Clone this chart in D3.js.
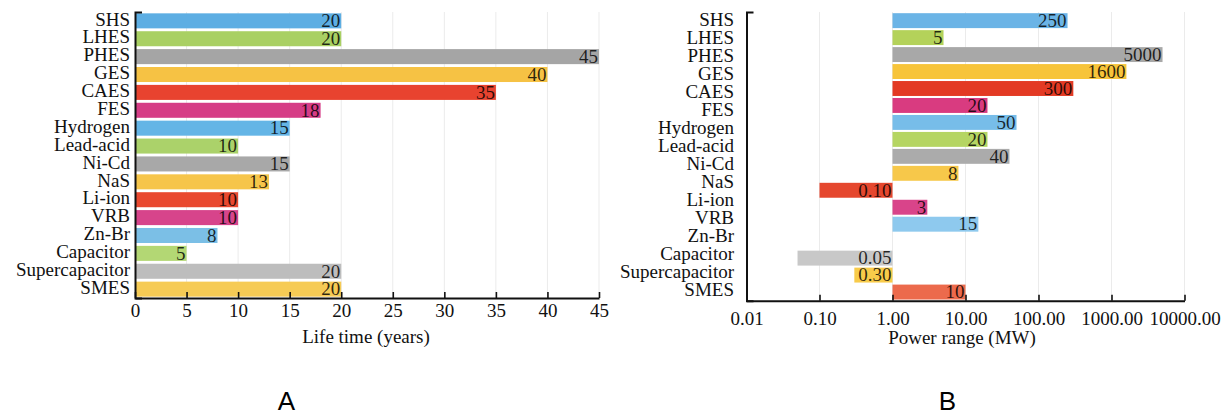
<!DOCTYPE html>
<html>
<head>
<meta charset="utf-8">
<script src="https://cdn.jsdelivr.net/npm/d3@7"></script>
<style>
  html, body { margin: 0; padding: 0; background: #fff; }
  svg { display: block; }
</style>
</head>
<body>
<svg id="chart" width="1230" height="416"></svg>
<script>
// Storage technologies, top to bottom
const technologies = ["SHS", "LHES", "PHES", "GES", "CAES", "FES", "Hydrogen", "Lead-acid",
  "Ni-Cd", "NaS", "Li-ion", "VRB", "Zn-Br", "Capacitor", "Supercapacitor", "SMES"];

// Panel A: life time in years
const lifeValues = [20, 20, 45, 40, 35, 18, 15, 10, 15, 13, 10, 10, 8, 5, 20, 20];
const lifeColors = ["#5daee3", "#a9d063", "#a5a5a5", "#f6c244", "#e8432f", "#d63d86", "#64b5e6", "#abd26a",
  "#a8a8a8", "#f6c54a", "#e9492f", "#d7448b", "#7bbfe6", "#b3d774", "#bdbdbd", "#f6cb55"];
const lifeTicks = [0, 5, 10, 15, 20, 25, 30, 35, 40, 45];

// Panel B: power range in MW, bars laid out on their own row grid (one empty row)
const powerValues = [250, 5, 5000, 1600, 300, 20, 50, 20, 40, 8, 0.10, 3, 15, null, 0.05, 0.30, 10];
const powerColors = ["#6bb4e6", "#b4d25a", "#a8a8a8", "#f7c43a", "#e33a24", "#d93b80", "#77bde9", "#b5d562",
  "#ababab", "#f7c84a", "#e5472e", "#d9448a", "#8ec9ee", "#b5d562", "#c8c8c8", "#f8cb4a", "#ec6a4c"];
const powerTicks = [0.01, 0.1, 1, 10, 100, 1000, 10000];
const powerTickLabels = ["0.01", "0.10", "1.00", "10.00", "100.00", "1000.00", "10000.00"];

const SERIF = "'Liberation Serif', 'Times New Roman', Times, serif";

const svg = d3.select("#chart");
svg.append("rect").attr("width", 1230).attr("height", 416).attr("fill", "#fff");

const fmtValue = v => v < 1 ? v.toFixed(2) : String(v);

function styleAxis(a) {
  a.attr("font-family", SERIF).attr("font-size", 19);
  a.select(".domain").attr("stroke", "#111").attr("stroke-width", 2);
  a.selectAll(".tick line").attr("stroke", "#111").attr("stroke-width", 1.6);
  a.selectAll("text").attr("fill", "#111");
}

// ---------- Panel A ----------
(function () {
  const g = svg.append("g");
  const x = d3.scaleLinear().domain([0, 45]).range([135, 599]);
  const y = d3.scaleBand().domain(technologies).range([12, 298]).paddingInner(0.16).paddingOuter(0.075);
  const axisY = 298;

  // faint vertical grid
  g.append("g").selectAll("line").data(lifeTicks.filter(t => t > 0)).join("line")
    .attr("x1", d => x(d)).attr("x2", d => x(d)).attr("y1", 12).attr("y2", axisY)
    .attr("stroke", "#ebebeb").attr("stroke-width", 1);

  const rows = technologies.map((c, i) => ({ c, v: lifeValues[i], color: lifeColors[i] }));
  g.append("g").selectAll("rect").data(rows).join("rect")
    .attr("x", x(0)).attr("y", d => y(d.c))
    .attr("width", d => x(d.v) - x(0)).attr("height", y.bandwidth())
    .attr("fill", d => d.color);

  g.append("g").attr("font-family", SERIF).attr("font-size", 19)
    .selectAll("text").data(rows).join("text")
    .attr("x", d => x(d.v) - 1).attr("y", d => y(d.c) + y.bandwidth() / 2)
    .attr("dy", "0.33em").attr("text-anchor", "end")
    .attr("fill", "#000").attr("fill-opacity", 0.82)
    .text(d => fmtValue(d.v));

  const xAxis = g.append("g").attr("transform", `translate(0,${axisY})`)
    .call(d3.axisBottom(x).tickValues(lifeTicks).tickSizeInner(-6).tickSizeOuter(0).tickPadding(6));
  const yAxis = g.append("g").attr("transform", `translate(${x(0)},0)`)
    .call(d3.axisLeft(y).tickSize(0).tickSizeOuter(-7).tickPadding(5));
  styleAxis(xAxis); styleAxis(yAxis);
  yAxis.selectAll("text").attr("dy", "0.25em");

  g.append("text").attr("x", 366).attr("y", 343).attr("text-anchor", "middle")
    .attr("font-family", SERIF).attr("font-size", 19).attr("fill", "#111")
    .text("Life time (years)");
})();

// ---------- Panel B ----------
(function () {
  const g = svg.append("g");
  const x = d3.scaleLog().domain([0.01, 10000]).range([746.5, 1184.5]);
  const rowsIdx = d3.range(powerValues.length);
  const yBars = d3.scaleBand().domain(rowsIdx).range([12, 300.7]).paddingInner(0.12).paddingOuter(0.07);
  const yLabels = d3.scaleBand().domain(technologies).range([12, 300.7]);
  const axisY = 300.7;

  g.append("g").selectAll("line").data(powerTicks.slice(1)).join("line")
    .attr("x1", d => x(d)).attr("x2", d => x(d)).attr("y1", 12).attr("y2", axisY)
    .attr("stroke", "#ebebeb").attr("stroke-width", 1);

  const bars = rowsIdx.map(i => ({ i, v: powerValues[i], color: powerColors[i] }))
    .filter(d => d.v != null);
  g.append("g").selectAll("rect").data(bars).join("rect")
    .attr("x", d => Math.min(x(1), x(d.v))).attr("y", d => yBars(d.i))
    .attr("width", d => Math.abs(x(d.v) - x(1))).attr("height", yBars.bandwidth())
    .attr("fill", d => d.color);

  g.append("g").attr("font-family", SERIF).attr("font-size", 19)
    .selectAll("text").data(bars).join("text")
    .attr("x", d => Math.max(x(1), x(d.v)) - 1).attr("y", d => yBars(d.i) + yBars.bandwidth() / 2)
    .attr("dy", "0.33em").attr("text-anchor", "end")
    .attr("fill", "#000").attr("fill-opacity", 0.82)
    .text(d => fmtValue(d.v));

  const xAxis = g.append("g").attr("transform", `translate(0,${axisY})`)
    .call(d3.axisBottom(x).tickValues(powerTicks).tickFormat((d, i) => powerTickLabels[i])
      .tickSizeInner(-6).tickSizeOuter(0).tickPadding(11));
  const yAxis = g.append("g").attr("transform", `translate(${x(0.01)},0)`)
    .call(d3.axisLeft(yLabels).tickSize(0).tickSizeOuter(-7).tickPadding(12.5));
  styleAxis(xAxis); styleAxis(yAxis);
  yAxis.selectAll("text").attr("dy", "0.25em");

  g.append("text").attr("x", 962).attr("y", 344).attr("text-anchor", "middle")
    .attr("font-family", SERIF).attr("font-size", 19).attr("fill", "#111")
    .text("Power range (MW)");
})();

// panel letters
svg.selectAll("text.panel").data([{ t: "A", x: 286.5 }, { t: "B", x: 947.5 }]).join("text")
  .attr("class", "panel").attr("x", d => d.x).attr("y", 410).attr("text-anchor", "middle")
  .attr("font-family", "'Liberation Sans', Arial, sans-serif").attr("font-size", 26).attr("fill", "#000")
  .text(d => d.t);
</script>
</body>
</html>
